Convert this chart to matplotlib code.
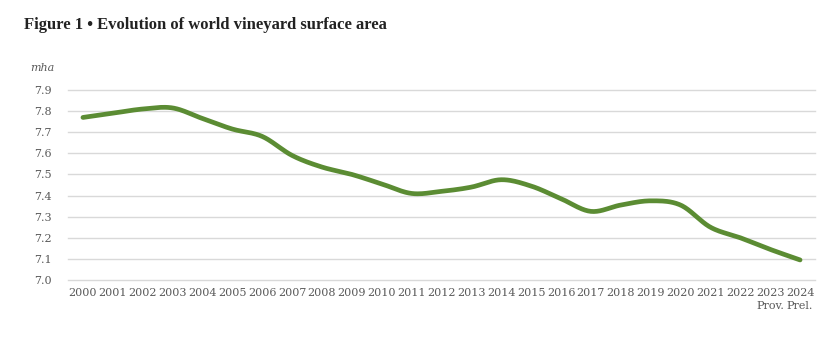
import numpy as np
import matplotlib.pyplot as plt

years = [str(y) for y in range(2000, 2025)]
tick_labels = years[:-2] + ["2023\nProv.", "2024\nPrel."]
surface = [7.77, 7.79, 7.81, 7.815, 7.765, 7.715, 7.68, 7.59, 7.535, 7.50,
           7.455, 7.41, 7.42, 7.44, 7.475, 7.445, 7.385, 7.325, 7.355, 7.375,
           7.355, 7.25, 7.20, 7.145, 7.095]


def smooth(x, y, n=20):
    # catmull-rom curve through the points, like Excel's smoothed line
    x = np.asarray(x, float)
    y = np.asarray(y, float)
    px = np.concatenate([[2 * x[0] - x[1]], x, [2 * x[-1] - x[-2]]])
    py = np.concatenate([[2 * y[0] - y[1]], y, [2 * y[-1] - y[-2]]])
    xs, ys = [], []
    t = np.linspace(0, 1, n, endpoint=False)
    for i in range(1, len(px) - 2):
        for p, out in ((px, xs), (py, ys)):
            p0, p1, p2, p3 = p[i - 1], p[i], p[i + 1], p[i + 2]
            out.extend(0.5 * (2 * p1 + (-p0 + p2) * t
                              + (2 * p0 - 5 * p1 + 4 * p2 - p3) * t ** 2
                              + (-p0 + 3 * p1 - 3 * p2 + p3) * t ** 3))
    xs.append(x[-1])
    ys.append(y[-1])
    return xs, ys


plt.rcParams['font.family'] = ['DejaVu Serif']
fig = plt.figure(figsize=(8.37, 3.47), dpi=100)
ax = fig.add_axes([68 / 837, 1 - 280 / 347, (815 - 68) / 837, 190 / 347])

x = np.arange(len(years))
sx, sy = smooth(x, surface)
ax.plot(sx, sy, color='#5b8c33', linewidth=3.4, solid_capstyle='round')

ax.set_xlim(-0.5, len(years) - 0.5)
ax.set_ylim(7.0, 7.9)
ax.set_yticks(np.arange(7.0, 7.91, 0.1))
ax.set_yticklabels([f"{v:.1f}" for v in np.arange(7.0, 7.91, 0.1)])
ax.set_xticks(x)
ax.set_xticklabels(tick_labels, linespacing=1.3)
ax.grid(axis='y', color='#d9d9d9', linewidth=1)
for gl in ax.get_ygridlines():
    gl.set_clip_on(False)
ax.set_axisbelow(True)
for s in ax.spines.values():
    s.set_visible(False)
ax.tick_params(length=0, labelsize=8, labelcolor='#595959')
ax.tick_params(axis='y', pad=12)
ax.tick_params(axis='x', pad=6)

fig.text(24 / 837, 1 - 25 / 347, "Figure 1 • Evolution of world vineyard surface area",
         fontsize=12, fontweight='bold', color='#222222', va='center',
         family=['Liberation Serif', 'DejaVu Serif'])
fig.text(30 / 837, 1 - 68 / 347, "mha", fontsize=8, style='italic',
         color='#595959', va='center')

fig.savefig('out.png', dpi=100)
